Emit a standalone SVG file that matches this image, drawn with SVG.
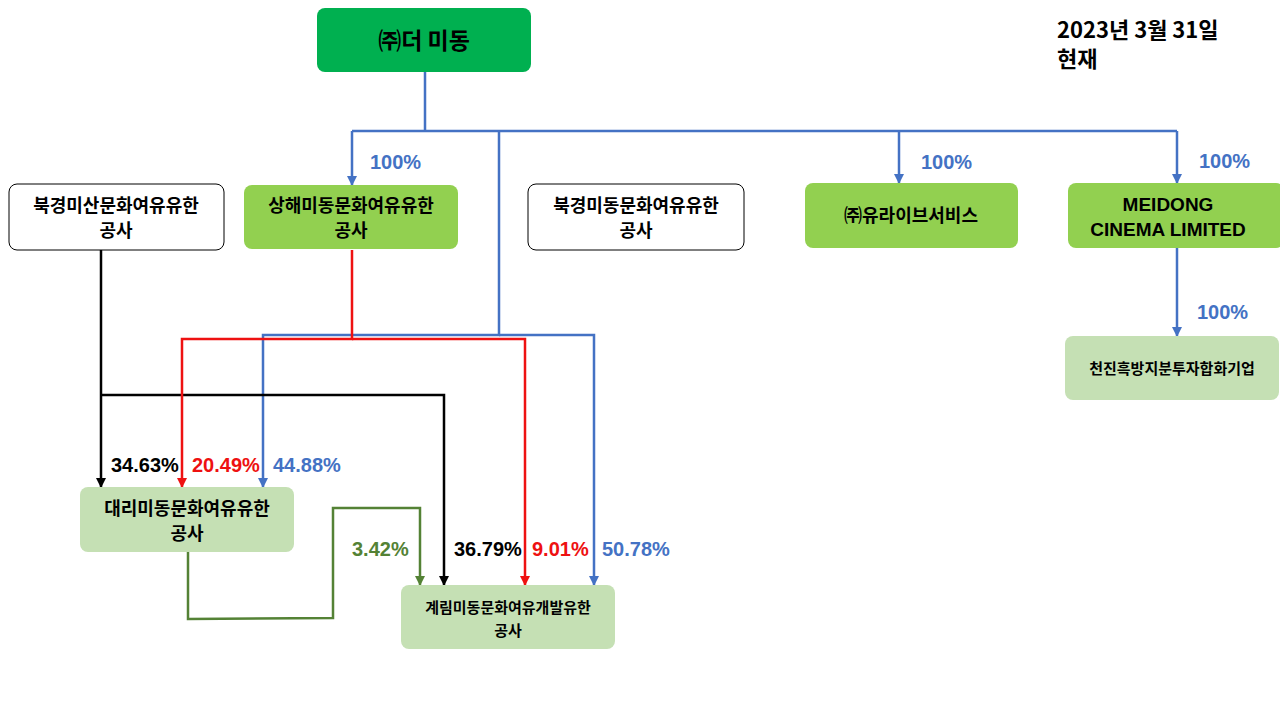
<svg xmlns="http://www.w3.org/2000/svg" width="1280" height="720" viewBox="0 0 1280 720">
<style>
text{font-family:"Noto Sans CJK KR","Liberation Sans",sans-serif;font-weight:bold;text-anchor:middle}
.n{font-size:18px;fill:#000}
.p{font-family:"Liberation Sans","Noto Sans CJK KR",sans-serif;font-size:20px;font-weight:bold;text-anchor:start}
.e{font-family:"Liberation Sans",sans-serif;font-size:19px}
.c{fill:none;stroke-width:2.5}
.b{stroke:#4472c4}.r{stroke:#ee1111}.k{stroke:#000}.g{stroke:#548235}
</style>
<defs>
<marker id="ab" viewBox="0 0 10 10" refX="9" refY="5" markerWidth="4" markerHeight="4" orient="auto"><path d="M0,0L10,5L0,10z" fill="#4472c4"/></marker>
<marker id="ar" viewBox="0 0 10 10" refX="9" refY="5" markerWidth="4" markerHeight="4" orient="auto"><path d="M0,0L10,5L0,10z" fill="#ee1111"/></marker>
<marker id="ak" viewBox="0 0 10 10" refX="9" refY="5" markerWidth="4" markerHeight="4" orient="auto"><path d="M0,0L10,5L0,10z" fill="#000"/></marker>
<marker id="ag" viewBox="0 0 10 10" refX="9" refY="5" markerWidth="4" markerHeight="4" orient="auto"><path d="M0,0L10,5L0,10z" fill="#548235"/></marker>
</defs>
<rect width="1280" height="720" fill="#fff"/>
<g id="connectors">
<path class="c b" d="M425,72V131M352,131H1177M352,131V185" marker-end="url(#ab)"/>
<path class="c b" d="M899,131V183" marker-end="url(#ab)"/>
<path class="c b" d="M1177,131V183" marker-end="url(#ab)"/>
<path class="c b" d="M1177,248V336" marker-end="url(#ab)"/>
<path class="c b" d="M499,131V335H263V487" marker-end="url(#ab)"/>
<path class="c b" d="M499,335H594V585" marker-end="url(#ab)"/>
<path class="c k" d="M101,250V487" marker-end="url(#ak)"/>
<path class="c k" d="M101,395H444V585" marker-end="url(#ak)"/>
<path class="c r" d="M352,250V339H182V487" marker-end="url(#ar)"/>
<path class="c r" d="M352,339H525V585" marker-end="url(#ar)"/>
<path class="c g" d="M188,552V619L333,618V508H420V585" marker-end="url(#ag)"/>
</g>
<g id="top"><rect x="317" y="8" width="214" height="64" rx="8" fill="#00b050"/><text x="424" y="49" font-size="23">㈜더 미동</text></g>
<g id="n1"><rect x="9" y="184" width="215" height="66" rx="8" fill="#fff" stroke="#000"/><text class="n" x="116" y="212">북경미산문화여유유한</text><text class="n" x="116" y="237">공사</text></g>
<g id="n2"><rect x="244" y="185" width="214" height="64" rx="8" fill="#92d050"/><text class="n" x="351" y="212">상해미동문화여유유한</text><text class="n" x="351" y="237">공사</text></g>
<g id="n3"><rect x="528" y="184" width="216" height="66" rx="8" fill="#fff" stroke="#000"/><text class="n" x="636" y="212">북경미동문화여유유한</text><text class="n" x="636" y="237">공사</text></g>
<g id="n4"><rect x="805" y="183" width="213" height="65" rx="8" fill="#92d050"/><text class="n" x="911" y="222">㈜유라이브서비스</text></g>
<g id="n5"><rect x="1068" y="183" width="216" height="65" rx="8" fill="#92d050"/><text class="e" x="1168" y="211">MEIDONG</text><text class="e" x="1168" y="236">CINEMA LIMITED</text></g>
<g id="n6"><rect x="1065" y="336" width="214" height="64" rx="8" fill="#c5e0b4"/><text x="1172" y="374" font-size="15">천진흑방지분투자합화기업</text></g>
<g id="n7"><rect x="80" y="487" width="214" height="65" rx="8" fill="#c5e0b4"/><text class="n" x="187" y="515">대리미동문화여유유한</text><text class="n" x="187" y="540">공사</text></g>
<g id="n8"><rect x="401" y="585" width="214" height="64" rx="8" fill="#c5e0b4"/><text x="508" y="613" font-size="15">계림미동문화여유개발유한</text><text x="508" y="636" font-size="15">공사</text></g>
<g id="labels">
<text class="p" x="370" y="169" fill="#4472c4">100%</text>
<text class="p" x="921" y="169" fill="#4472c4">100%</text>
<text class="p" x="1199" y="168" fill="#4472c4">100%</text>
<text class="p" x="1197" y="319" fill="#4472c4">100%</text>
<text class="p" x="111" y="472" fill="#000">34.63%</text>
<text class="p" x="192" y="472" fill="#ee1111">20.49%</text>
<text class="p" x="273" y="472" fill="#4472c4">44.88%</text>
<text class="p" x="352" y="556" fill="#548235">3.42%</text>
<text class="p" x="454" y="556" fill="#000">36.79%</text>
<text class="p" x="532" y="556" fill="#ee1111">9.01%</text>
<text class="p" x="602" y="556" fill="#4472c4">50.78%</text>
<text x="1057" y="38" font-size="22" style="text-anchor:start">2023년 3월 31일</text>
<text x="1057" y="67" font-size="22" style="text-anchor:start">현재</text>
</g>
</svg>
